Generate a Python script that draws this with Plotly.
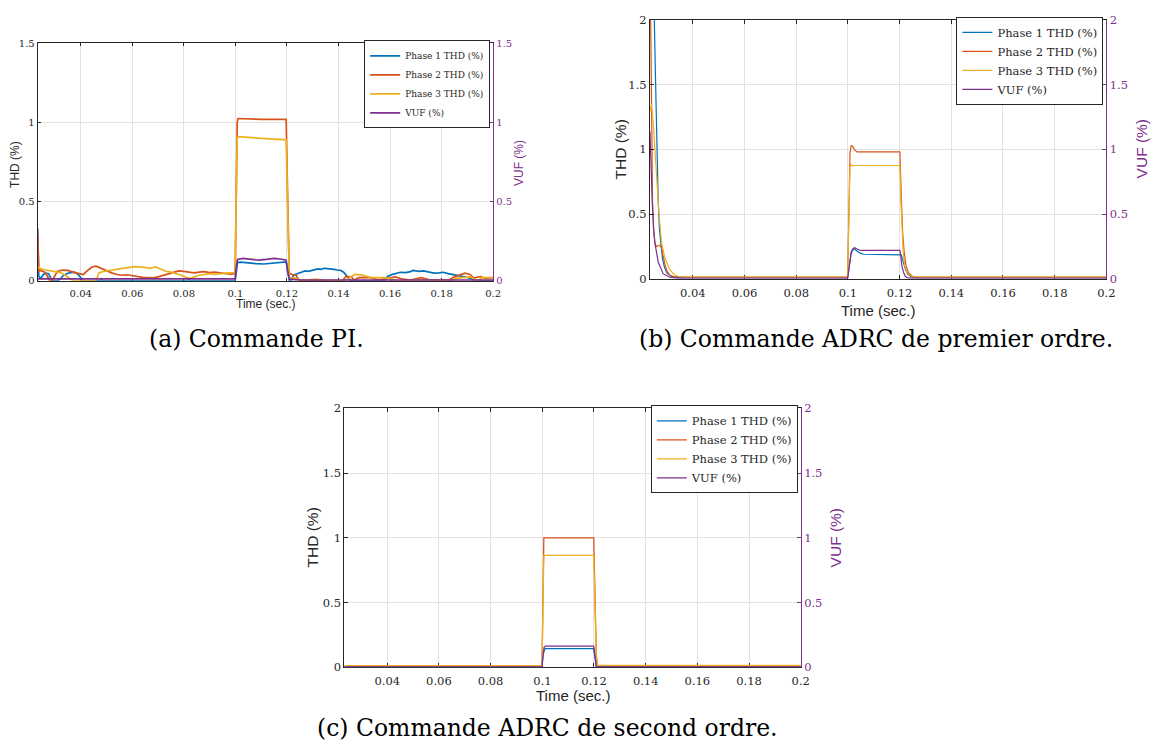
import plotly.graph_objects as go

# ---------------------------------------------------------------------------
# Data: (time [s], value [%]) pairs for each controller
# ---------------------------------------------------------------------------
x_tick_vals = [0.04, 0.06, 0.08, 0.1, 0.12, 0.14, 0.16, 0.18, 0.2]
x_tick_text = ["0.04", "0.06", "0.08", "0.1", "0.12", "0.14", "0.16", "0.18", "0.2"]
y_ticks_pi = [0, 0.5, 1, 1.5]
y_ticks_pi_text = ["0", "0.5", "1", "1.5"]
y_ticks_adrc = [0, 0.5, 1, 1.5, 2]
y_ticks_adrc_text = ["0", "0.5", "1", "1.5", "2"]

series_names = ["Phase 1 THD (%)", "Phase 2 THD (%)", "Phase 3 THD (%)", "VUF (%)"]
captions = ["(a) Commande PI.",
            "(b) Commande ADRC de premier ordre.",
            "(c) Commande ADRC de second ordre."]

# (a) PI controller
pi_phase1 = [(0.0233, 0.33), (0.0237, 0.03), (0.0245, 0.015), (0.0255, 0.04), (0.0265, 0.048),
             (0.0275, 0.045), (0.0283, 0.02), (0.029, 0.0), (0.031, 0.0), (0.032, 0.01),
             (0.033, 0.03), (0.0345, 0.045), (0.036, 0.052), (0.0375, 0.055), (0.039, 0.04),
             (0.0405, 0.01), (0.041, 0.0), (0.0475, 0.0), (0.048, 0.012), (0.0485, 0.0),
             (0.0815, 0.0), (0.082, 0.015), (0.0825, 0.0), (0.0999, 0.0), (0.1003, 0.06),
             (0.1008, 0.115), (0.102, 0.118), (0.105, 0.112), (0.108, 0.108), (0.111, 0.106),
             (0.114, 0.11), (0.117, 0.115), (0.1197, 0.12), (0.1203, 0.06), (0.1209, 0.0),
             (0.1215, 0.0), (0.1226, 0.037), (0.1245, 0.048), (0.1255, 0.052), (0.127, 0.062),
             (0.1283, 0.06), (0.1295, 0.066), (0.1308, 0.07), (0.132, 0.075), (0.1333, 0.072),
             (0.1345, 0.079), (0.1358, 0.077), (0.137, 0.076), (0.1383, 0.072), (0.1395, 0.068),
             (0.1408, 0.066), (0.142, 0.054), (0.1435, 0.027), (0.1447, 0.0), (0.158, 0.0),
             (0.159, 0.027), (0.161, 0.041), (0.1625, 0.047), (0.164, 0.054), (0.166, 0.052),
             (0.168, 0.058), (0.169, 0.066), (0.171, 0.06), (0.173, 0.062), (0.175, 0.055),
             (0.177, 0.048), (0.179, 0.05), (0.1806, 0.054), (0.1825, 0.045), (0.1845, 0.037),
             (0.1865, 0.033), (0.1884, 0.027), (0.191, 0.017), (0.1935, 0.0), (0.2, 0.0)]

pi_phase2 = [(0.0233, 0.30), (0.0237, 0.06), (0.0245, 0.065), (0.026, 0.055), (0.027, 0.03),
             (0.0278, 0.005), (0.0288, 0.0), (0.0298, 0.03), (0.031, 0.06), (0.033, 0.068),
             (0.035, 0.066), (0.037, 0.055), (0.039, 0.045), (0.041, 0.04), (0.043, 0.07),
             (0.0445, 0.088), (0.046, 0.092), (0.048, 0.078), (0.050, 0.062), (0.052, 0.05),
             (0.054, 0.04), (0.056, 0.035), (0.058, 0.038), (0.060, 0.033), (0.062, 0.025),
             (0.064, 0.022), (0.066, 0.02), (0.068, 0.018), (0.070, 0.025), (0.072, 0.035),
             (0.074, 0.042), (0.076, 0.055), (0.078, 0.062), (0.080, 0.06), (0.082, 0.056),
             (0.084, 0.05), (0.086, 0.055), (0.088, 0.058), (0.090, 0.052), (0.092, 0.055),
             (0.094, 0.05), (0.096, 0.045), (0.098, 0.042), (0.0999, 0.045), (0.1003, 0.55),
             (0.1007, 1.0), (0.101, 1.025), (0.105, 1.022), (0.110, 1.02), (0.115, 1.02),
             (0.1197, 1.02), (0.1203, 0.5), (0.1209, 0.05), (0.122, 0.04), (0.1235, 0.035),
             (0.1248, 0.0), (0.1415, 0.0), (0.1428, 0.027), (0.145, 0.025), (0.146, 0.005),
             (0.148, 0.02), (0.152, 0.022), (0.1555, 0.006), (0.159, 0.015), (0.162, 0.025),
             (0.165, 0.01), (0.168, 0.005), (0.172, 0.02), (0.175, 0.008), (0.178, 0.005),
             (0.183, 0.006), (0.185, 0.025), (0.189, 0.048), (0.191, 0.04), (0.1925, 0.017),
             (0.195, 0.027), (0.197, 0.015), (0.2, 0.02)]

pi_phase3 = [(0.0233, 0.09), (0.0245, 0.075), (0.026, 0.07), (0.028, 0.065), (0.030, 0.06),
             (0.032, 0.052), (0.034, 0.035), (0.0355, 0.015), (0.037, 0.0), (0.0455, 0.0),
             (0.0462, 0.01), (0.047, 0.05), (0.049, 0.06), (0.051, 0.065), (0.053, 0.068),
             (0.055, 0.075), (0.057, 0.08), (0.059, 0.085), (0.061, 0.09), (0.063, 0.088),
             (0.065, 0.085), (0.067, 0.08), (0.069, 0.088), (0.071, 0.075), (0.073, 0.06),
             (0.075, 0.055), (0.077, 0.045), (0.079, 0.035), (0.081, 0.02), (0.0825, 0.015),
             (0.084, 0.025), (0.086, 0.035), (0.088, 0.04), (0.090, 0.045), (0.092, 0.04),
             (0.094, 0.045), (0.096, 0.048), (0.098, 0.05), (0.0999, 0.052), (0.1003, 0.5),
             (0.1007, 0.905), (0.101, 0.91), (0.105, 0.905), (0.11, 0.9), (0.115, 0.895),
             (0.1197, 0.89), (0.1203, 0.45), (0.1209, 0.02), (0.1232, 0.017), (0.1245, 0.006),
             (0.1283, 0.006), (0.1309, 0.01), (0.135, 0.004), (0.1424, 0.0), (0.1463, 0.04),
             (0.1488, 0.037), (0.1527, 0.02), (0.1578, 0.02), (0.1604, 0.012), (0.163, 0.0),
             (0.168, 0.0), (0.1719, 0.006), (0.178, 0.0), (0.1835, 0.0), (0.186, 0.017),
             (0.1912, 0.025), (0.1937, 0.0), (0.196, 0.02), (0.2, 0.02)]

pi_vuf = [(0.0233, 0.012), (0.0999, 0.012), (0.1003, 0.08), (0.1008, 0.135), (0.103, 0.142),
          (0.106, 0.138), (0.109, 0.13), (0.112, 0.135), (0.115, 0.142), (0.118, 0.136),
          (0.1197, 0.13), (0.1203, 0.06), (0.121, 0.01), (0.125, 0.004), (0.2, 0.004)]

# (b) first-order ADRC
adrc1_phase1 = [(0.0234, 2.9), (0.0251, 2.0), (0.0255, 1.6), (0.0259, 1.2), (0.0263, 0.85),
                (0.0266, 0.6), (0.0271, 0.38), (0.0277, 0.25), (0.0283, 0.15), (0.029, 0.09),
                (0.03, 0.045), (0.0315, 0.02), (0.0335, 0.011), (0.036, 0.009), (0.0999, 0.009),
                (0.1004, 0.08), (0.1008, 0.15), (0.1013, 0.2), (0.102, 0.225), (0.1026, 0.23),
                (0.1035, 0.215), (0.1045, 0.2), (0.106, 0.19), (0.1201, 0.19), (0.1206, 0.185),
                (0.121, 0.16), (0.1216, 0.12), (0.1223, 0.07), (0.1232, 0.035), (0.1245, 0.015),
                (0.127, 0.009), (0.2, 0.009)]

adrc1_phase2 = [(0.0234, 2.6), (0.0238, 2.0), (0.0241, 1.2), (0.0244, 0.6), (0.0248, 0.38),
                (0.0253, 0.28), (0.0259, 0.25), (0.0266, 0.255), (0.0272, 0.26), (0.0279, 0.24),
                (0.0285, 0.18), (0.0292, 0.11), (0.03, 0.06), (0.031, 0.03), (0.0325, 0.018),
                (0.034, 0.014), (0.036, 0.013), (0.0999, 0.013), (0.1004, 0.6), (0.1008, 0.97),
                (0.1013, 1.03), (0.1019, 1.02), (0.1026, 0.995), (0.1035, 0.98), (0.1201, 0.98),
                (0.1205, 0.8), (0.1208, 0.55), (0.1212, 0.35), (0.1218, 0.2), (0.1225, 0.1),
                (0.1235, 0.045), (0.125, 0.02), (0.127, 0.013), (0.2, 0.013)]

adrc1_phase3 = [(0.0234, 1.29), (0.024, 1.35), (0.0247, 1.2), (0.0253, 0.99), (0.026, 0.74),
                (0.0269, 0.5), (0.0279, 0.28), (0.0292, 0.16), (0.0311, 0.07), (0.033, 0.03),
                (0.035, 0.016), (0.037, 0.013), (0.0999, 0.013), (0.1004, 0.55), (0.1008, 0.86),
                (0.1012, 0.885), (0.1018, 0.87), (0.1025, 0.875), (0.1201, 0.875), (0.1205, 0.6),
                (0.1209, 0.35), (0.1214, 0.2), (0.122, 0.1), (0.123, 0.045), (0.1245, 0.02),
                (0.127, 0.013), (0.2, 0.013)]

adrc1_vuf = [(0.0234, 1.14), (0.0238, 0.85), (0.0243, 0.59), (0.0248, 0.4), (0.0253, 0.28),
             (0.0266, 0.13), (0.0285, 0.04), (0.031, 0.012), (0.034, 0.005), (0.0999, 0.005),
             (0.1004, 0.09), (0.1008, 0.17), (0.1013, 0.21), (0.102, 0.235), (0.1026, 0.24),
             (0.1035, 0.23), (0.1045, 0.222), (0.106, 0.22), (0.1201, 0.22), (0.1205, 0.17),
             (0.1209, 0.1), (0.1215, 0.05), (0.1222, 0.02), (0.1232, 0.007), (0.125, 0.005),
             (0.2, 0.005)]

# (c) second-order ADRC
adrc2_phase1 = [(0.0234, 0.005), (0.0999, 0.005), (0.1003, 0.1), (0.1007, 0.14), (0.101, 0.145),
                (0.1199, 0.145), (0.1204, 0.08), (0.1209, 0.006), (0.2, 0.006)]
adrc2_phase2 = [(0.0234, 0.012), (0.0999, 0.012), (0.1003, 0.6), (0.1006, 1.0), (0.1199, 1.0),
                (0.1204, 0.5), (0.1209, 0.1), (0.1213, 0.013), (0.2, 0.013)]
adrc2_phase3 = [(0.0234, 0.014), (0.0999, 0.014), (0.1003, 0.55), (0.1006, 0.865), (0.1199, 0.865),
                (0.1204, 0.45), (0.1209, 0.09), (0.1213, 0.015), (0.2, 0.015)]
adrc2_vuf = [(0.0234, 0.004), (0.0999, 0.004), (0.1003, 0.1), (0.1007, 0.155), (0.1012, 0.165),
             (0.1199, 0.165), (0.1204, 0.09), (0.1209, 0.006), (0.2, 0.004)]

# ---------------------------------------------------------------------------
# Styling
# ---------------------------------------------------------------------------
W, H = 1163, 751
COLORS = ["#0072BD", "#D95319", "#EDB120", "#7E2F8E"]
PURPLE = "#7E2F8E"
AXIS = "#262626"
GRID = "#e2e2e2"
SERIF = "DejaVu Serif"
SANS = "Liberation Sans"


def px_x(p):
    return p / W


def px_y(p):
    return 1 - p / H


panels = [
    dict(data=[pi_phase1, pi_phase2, pi_phase3, pi_vuf], box=(38, 37, 497, 279),
         yr=1.5, yt=y_ticks_pi, ytt=y_ticks_pi_text, xr=0.0233, tick=10, lw=1.7,
         leg=9, ticklen=3),
    dict(data=[adrc1_phase1, adrc1_phase2, adrc1_phase3, adrc1_vuf], box=(655, 13, 1115, 277),
         yr=2, yt=y_ticks_adrc, ytt=y_ticks_adrc_text, xr=0.0234, tick=11.5, lw=1.2,
         leg=11.5, ticklen=4),
    dict(data=[adrc2_phase1, adrc2_phase2, adrc2_phase3, adrc2_vuf], box=(347, 409, 807, 673),
         yr=2, yt=y_ticks_adrc, ytt=y_ticks_adrc_text, xr=0.0234, tick=11.5, lw=1.3,
         leg=11.5, ticklen=4),
]

fig = go.Figure()
layout = dict(width=W, height=H, autosize=False, margin=dict(l=0, r=0, t=0, b=0),
              paper_bgcolor="white", plot_bgcolor="white", showlegend=True,
              annotations=[])

for i, p in enumerate(panels):
    n = i + 1
    xa = "x" if n == 1 else f"x{n}"
    ya_l = f"y{2 * n - 1}" if n > 1 else "y"
    ya_r = f"y{2 * n}"
    leg = "legend" if n == 1 else f"legend{n}"
    x0, y0, x1, y1 = p["box"]

    for k, series in enumerate(p["data"]):
        t = [s[0] for s in series]
        v = [s[1] for s in series]
        fig.add_trace(go.Scatter(
            x=t, y=v, mode="lines", name=series_names[k],
            line=dict(color=COLORS[k], width=p["lw"]),
            xaxis=xa, yaxis=ya_r if k == 3 else ya_l, legend=leg,
            hoverinfo="skip"))

    xkey = "xaxis" if n == 1 else f"xaxis{n}"
    ylkey = "yaxis" if n == 1 else f"yaxis{2 * n - 1}"
    yrkey = f"yaxis{2 * n}"

    layout[xkey] = dict(
        domain=[px_x(x0), px_x(x1)], anchor=ya_l, range=[p["xr"], 0.2],
        tickvals=x_tick_vals, ticktext=x_tick_text, ticks="inside", ticklen=p["ticklen"],
        tickcolor=AXIS, showline=True, linecolor=AXIS, linewidth=1, mirror="ticks",
        showgrid=True, gridcolor=GRID, gridwidth=1, zeroline=False, layer="below traces",
        ticklabelstandoff=3,
        tickfont=dict(family=SERIF, size=p["tick"], color=AXIS))
    layout[ylkey] = dict(
        domain=[px_y(y1), px_y(y0)], anchor=xa, range=[0, p["yr"]],
        tickvals=p["yt"], ticktext=p["ytt"], ticks="inside", ticklen=p["ticklen"],
        tickcolor=AXIS, showline=True, linecolor=AXIS, linewidth=1, mirror=False,
        showgrid=True, gridcolor=GRID, gridwidth=1, zeroline=False,
        tickfont=dict(family=SERIF, size=p["tick"], color=AXIS))
    layout[yrkey] = dict(
        overlaying=ya_l, anchor=xa, side="right", range=[0, p["yr"]],
        tickvals=p["yt"], ticktext=p["ytt"], ticks="inside", ticklen=p["ticklen"],
        tickcolor=PURPLE, showline=True, linecolor=PURPLE, linewidth=1.2,
        showgrid=False, zeroline=False,
        tickfont=dict(family=SERIF, size=p["tick"], color=PURPLE))

    layout[leg] = dict(
        x=px_x(x1 - 3), y=px_y(y0 - 3), xanchor="right", yanchor="top",
        bgcolor="white", bordercolor=AXIS, borderwidth=1,
        font=dict(family=SERIF, size=p["leg"], color=AXIS),
        tracegroupgap=0, itemwidth=30)

# Axis titles and captions
titles = [
    # (text, x px, y px, angle, size, color)
    ("THD (%)", 15, 160, -90, 12, AXIS),
    ("VUF (%)", 523, 159, -90, 12, PURPLE),
    ("Time (sec.)", 268, 303, 0, 12, AXIS),
    ("THD (%)", 625, 145, -90, 15.5, AXIS),
    ("VUF (%)", 1150, 145, -90, 15.5, PURPLE),
    ("Time (sec.)", 885, 309, 0, 15, AXIS),
    ("THD (%)", 315, 541, -90, 15.5, AXIS),
    ("VUF (%)", 842, 541, -90, 15.5, PURPLE),
    ("Time (sec.)", 577, 702, 0, 15, AXIS),
]
for text, x, y, ang, size, col in titles:
    layout["annotations"].append(dict(
        text=text, x=px_x(x), y=px_y(y), xref="paper", yref="paper",
        xanchor="center", yanchor="middle", showarrow=False, textangle=ang,
        font=dict(family=SANS, size=size, color=col)))

caption_pos = [(258, 338), (883, 338), (552, 735)]
for text, (x, y) in zip(captions, caption_pos):
    layout["annotations"].append(dict(
        text=text, x=px_x(x), y=px_y(y), xref="paper", yref="paper",
        xanchor="center", yanchor="middle", showarrow=False,
        font=dict(family=SERIF, size=23.5, color="black")))

fig.update_layout(**layout)
fig.write_html("out.html")
